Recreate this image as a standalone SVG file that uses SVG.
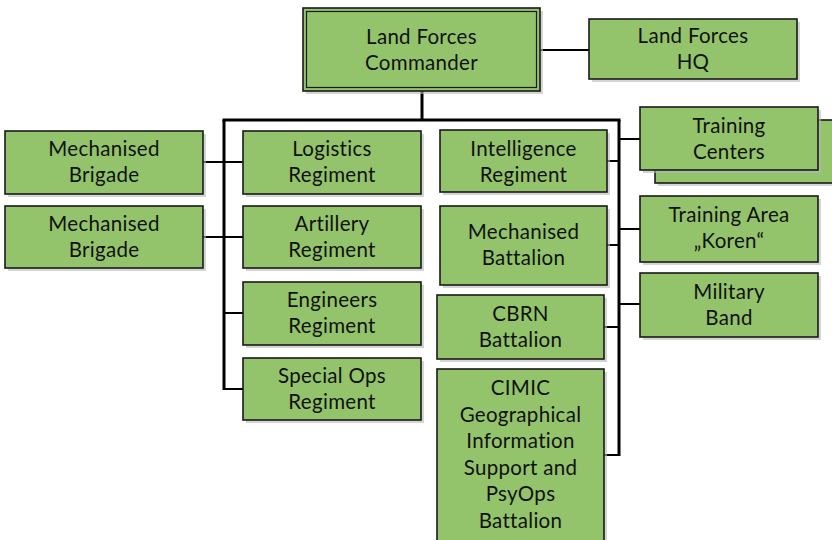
<svg xmlns="http://www.w3.org/2000/svg" width="832" height="540" viewBox="0 0 832 540">
<defs>
<style>
.box{fill:#93C46B;stroke:#1a1a1a;stroke-width:1.6}
.sh{fill:#b8b8b8;opacity:0.6}
.t{font-family:Lato,"Liberation Sans",sans-serif;font-size:20.5px;letter-spacing:0.3px;fill:#111;text-anchor:middle}
.c{stroke:#000;fill:none;stroke-width:2}
.ct{stroke:#000;fill:none;stroke-width:3}
</style>
</defs>
<rect width="832" height="540" fill="#fff"/>
<g id="connectors">
<line class="c" x1="540" y1="50" x2="589" y2="50"/>
<line class="ct" x1="422" y1="91" x2="422" y2="120"/>
<line class="ct" x1="222.5" y1="120" x2="620.5" y2="120"/>
<line class="ct" x1="224" y1="120" x2="224" y2="390"/>
<line class="c" x1="224" y1="162" x2="243" y2="162"/>
<line class="c" x1="224" y1="237" x2="243" y2="237"/>
<line class="c" x1="224" y1="313" x2="243" y2="313"/>
<line class="c" x1="224" y1="389" x2="243" y2="389"/>
<line class="c" x1="203" y1="162" x2="224" y2="162"/>
<line class="c" x1="203" y1="237" x2="224" y2="237"/>
<line class="ct" x1="619" y1="120" x2="619" y2="456"/>
<line class="c" x1="607" y1="161" x2="619" y2="161"/>
<line class="c" x1="607" y1="245" x2="619" y2="245"/>
<line class="c" x1="604" y1="327" x2="619" y2="327"/>
<line class="c" x1="604" y1="455" x2="619" y2="455"/>
<line class="c" x1="619" y1="139" x2="640" y2="139"/>
<line class="c" x1="619" y1="229" x2="640" y2="229"/>
<line class="c" x1="619" y1="304" x2="640" y2="304"/>
</g>
<g id="commander">
<rect class="sh" x="306" y="11" width="237" height="83"/>
<rect class="box" x="303" y="8" width="237" height="83"/>
<rect x="306.5" y="11.5" width="230" height="76" fill="none" stroke="#1a1a1a" stroke-width="1.2"/>
<text class="t" x="421.5" y="43.5">Land Forces</text>
<text class="t" x="421.5" y="69.5">Commander</text>
</g>
<g id="hq">
<rect class="sh" x="592" y="22" width="208" height="60"/>
<rect class="box" x="589" y="19" width="208" height="60"/>
<text class="t" x="693" y="43">Land Forces</text>
<text class="t" x="693" y="69">HQ</text>
</g>
<g id="mb1">
<rect class="sh" x="8" y="134" width="198" height="63"/>
<rect class="box" x="5" y="131" width="198" height="63"/>
<text class="t" x="104" y="156">Mechanised</text>
<text class="t" x="104" y="182">Brigade</text>
</g>
<g id="mb2">
<rect class="sh" x="8" y="209" width="198" height="62"/>
<rect class="box" x="5" y="206" width="198" height="62"/>
<text class="t" x="104" y="230.5">Mechanised</text>
<text class="t" x="104" y="256.5">Brigade</text>
</g>
<g id="logistics">
<rect class="sh" x="246" y="134" width="178" height="63"/>
<rect class="box" x="243" y="131" width="178" height="63"/>
<text class="t" x="332" y="156">Logistics</text>
<text class="t" x="332" y="182">Regiment</text>
</g>
<g id="artillery">
<rect class="sh" x="246" y="209" width="178" height="62"/>
<rect class="box" x="243" y="206" width="178" height="62"/>
<text class="t" x="332" y="230.5">Artillery</text>
<text class="t" x="332" y="256.5">Regiment</text>
</g>
<g id="engineers">
<rect class="sh" x="246" y="285" width="178" height="63"/>
<rect class="box" x="243" y="282" width="178" height="63"/>
<text class="t" x="332" y="306.5">Engineers</text>
<text class="t" x="332" y="332.5">Regiment</text>
</g>
<g id="specialops">
<rect class="sh" x="246" y="361" width="178" height="62"/>
<rect class="box" x="243" y="358" width="178" height="62"/>
<text class="t" x="332" y="383">Special Ops</text>
<text class="t" x="332" y="409">Regiment</text>
</g>
<g id="intelligence">
<rect class="sh" x="443" y="133" width="167" height="62"/>
<rect class="box" x="440" y="130" width="167" height="62"/>
<text class="t" x="523.5" y="156">Intelligence</text>
<text class="t" x="523.5" y="182">Regiment</text>
</g>
<g id="mechbattalion">
<rect class="sh" x="443" y="209" width="167" height="79"/>
<rect class="box" x="440" y="206" width="167" height="79"/>
<text class="t" x="523.5" y="239">Mechanised</text>
<text class="t" x="523.5" y="265">Battalion</text>
</g>
<g id="cbrn">
<rect class="sh" x="440" y="298" width="167" height="64"/>
<rect class="box" x="437" y="295" width="167" height="64"/>
<text class="t" x="520.5" y="321">CBRN</text>
<text class="t" x="520.5" y="347">Battalion</text>
</g>
<g id="cimic">
<rect class="sh" x="440" y="372" width="167" height="180"/>
<rect class="box" x="437" y="369" width="167" height="180"/>
<text class="t" x="520.5" y="395">CIMIC</text>
<text class="t" x="520.5" y="421.5">Geographical</text>
<text class="t" x="520.5" y="448">Information</text>
<text class="t" x="520.5" y="474.5">Support and</text>
<text class="t" x="520.5" y="501">PsyOps</text>
<text class="t" x="520.5" y="527.5">Battalion</text>
</g>
<g id="training-centers">
<rect class="sh" x="658" y="123" width="180" height="63"/>
<rect class="box" x="655" y="120" width="180" height="63"/>
<rect class="sh" x="643" y="110" width="178" height="63"/>
<rect class="box" x="640" y="107" width="178" height="63"/>
<text class="t" x="729" y="132.5">Training</text>
<text class="t" x="729" y="158.5">Centers</text>
</g>
<g id="training-area">
<rect class="sh" x="643" y="199" width="178" height="66"/>
<rect class="box" x="640" y="196" width="178" height="66"/>
<text class="t" x="729" y="222">Training Area</text>
<text class="t" x="729" y="248">„Koren“</text>
</g>
<g id="military-band">
<rect class="sh" x="643" y="276" width="178" height="64"/>
<rect class="box" x="640" y="273" width="178" height="64"/>
<text class="t" x="729" y="299">Military</text>
<text class="t" x="729" y="325">Band</text>
</g>
</svg>
